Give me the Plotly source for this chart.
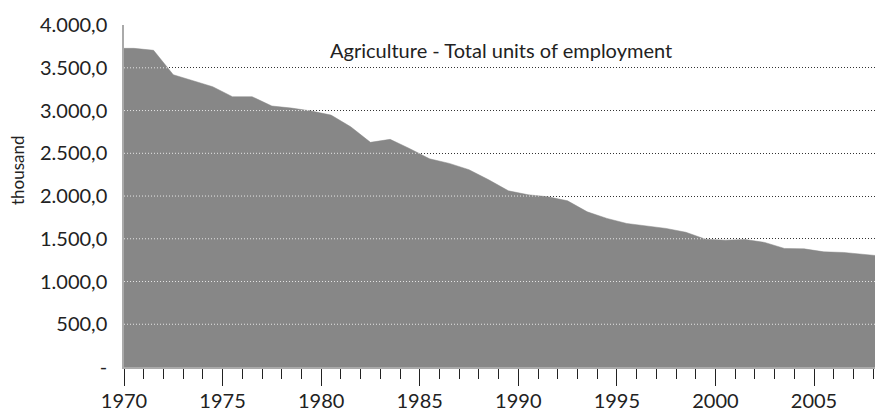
import plotly.graph_objects as go

# ---- data ----
years = list(range(1970, 2009))
employment = [3728, 3705, 3419, 3349, 3279, 3162, 3162, 3053, 3029, 2995,
              2947, 2810, 2628, 2663, 2554, 2435, 2382, 2308, 2190, 2061,
              2015, 1991, 1944, 1815, 1738, 1679, 1651, 1621, 1576, 1495,
              1484, 1492, 1457, 1387, 1382, 1347, 1340, 1320, 1296]
y_tick_vals = [0, 500, 1000, 1500, 2000, 2500, 3000, 3500, 4000]
y_tick_text = ["-", "500,0", "1.000,0", "1.500,0", "2.000,0", "2.500,0",
               "3.000,0", "3.500,0", "4.000,0"]
title_text = "Agriculture - Total units of employment"
y_title = "thousand"

# categories are centred between year ticks; area reaches the left edge
xs = [years[0]] + [y + 0.5 for y in years]
ys = [employment[0]] + employment

FONT = "Lato"
fig = go.Figure()
fig.add_trace(go.Scatter(x=xs, y=ys, mode="lines", fill="tozeroy",
                         fillcolor="#878787",
                         line=dict(color="#878787", width=0.5),
                         hoverinfo="skip", showlegend=False))

# light dotted grid segments over the filled area
def covered_intervals(level):
    segs = []
    start = None
    for i in range(len(xs)):
        above = ys[i] >= level
        if i > 0:
            prev_above = ys[i - 1] >= level
            if above != prev_above:
                x0, x1, y0, y1 = xs[i - 1], xs[i], ys[i - 1], ys[i]
                xc = x0 + (level - y0) * (x1 - x0) / (y1 - y0)
                if above:
                    start = xc
                else:
                    segs.append((start, xc))
                    start = None
        elif above:
            start = xs[0]
    if start is not None:
        segs.append((start, xs[-1]))
    return segs

for lv in y_tick_vals[1:]:
    for a, b in covered_intervals(lv):
        fig.add_trace(go.Scatter(x=[a, b], y=[lv, lv], mode="lines",
                                 line=dict(color="#e6e6e6", width=1, dash="1px,2px"),
                                 hoverinfo="skip", showlegend=False))

fig.add_annotation(text=title_text, xref="paper", yref="paper", x=0.497, y=0.927,
                   showarrow=False, font=dict(family=FONT, size=20, color="#222"),
                   xanchor="center", yanchor="middle")
fig.add_annotation(text=y_title, xref="paper", yref="paper", x=-0.141, y=0.576,
                   showarrow=False, textangle=-90,
                   font=dict(family=FONT, size=17, color="#222"),
                   xanchor="center", yanchor="middle")

# page body has an 8px margin: figure is sized to fill the 883x410 window
fig.update_layout(
    width=875, height=402,
    margin=dict(l=116, r=0, t=17, b=43),
    plot_bgcolor="white", paper_bgcolor="white",
    font=dict(family=FONT, color="#222"),
    xaxis=dict(range=[1970, 2008.5], tickmode="linear", tick0=1970, dtick=5,
               ticks="outside", ticklen=17, tickcolor="#222", tickwidth=1,
               minor=dict(tickmode="linear", tick0=1970, dtick=1, ticks="outside",
                          ticklen=10, tickcolor="#222", tickwidth=1, showgrid=False),
               showgrid=False, zeroline=False, showline=True, linecolor="#aaaaaa",
               linewidth=1.5, automargin=False, ticklabelstandoff=-2,
               tickfont=dict(family=FONT, size=20, color="#222")),
    yaxis=dict(range=[0, 4001], tickmode="array", tickvals=y_tick_vals,
               ticktext=y_tick_text, showgrid=True, gridcolor="#333",
               griddash="1px,2px", gridwidth=1, zeroline=False, showline=True,
               linecolor="#aaaaaa", linewidth=1.5, ticks="", ticklabelstandoff=11,
               automargin=False,
               tickfont=dict(family=FONT, size=20, color="#222")),
)

fig.write_html("out.html")
